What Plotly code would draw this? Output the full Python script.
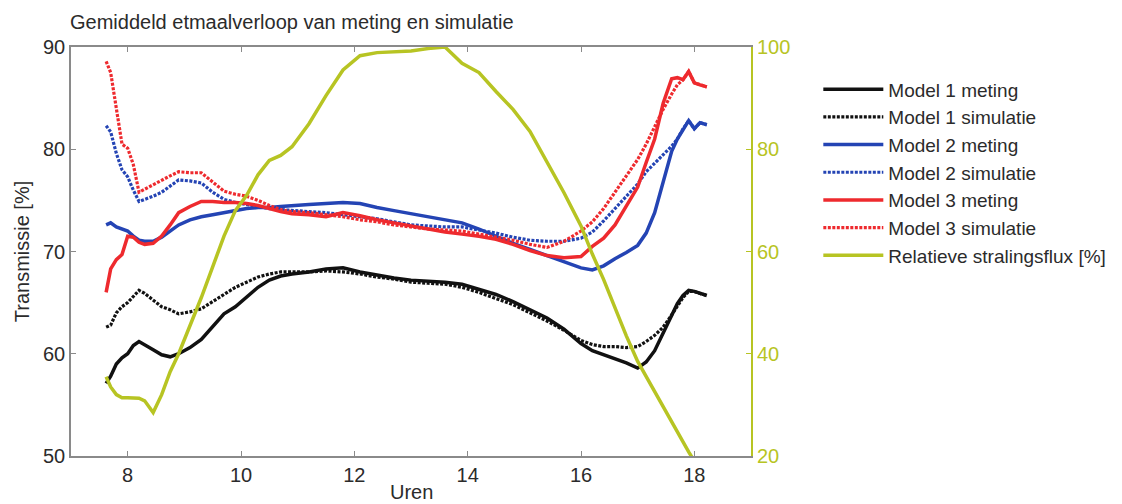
import plotly.graph_objects as go

# Hours of the day (decimal)
hours = [7.62, 7.7, 7.8, 7.9, 8.0, 8.1, 8.2, 8.3, 8.45, 8.6, 8.75, 8.9, 9.1, 9.3, 9.5,
         9.7, 9.9, 10.1, 10.3, 10.5, 10.7, 10.9, 11.2, 11.5, 11.8, 12.1, 12.4, 12.7,
         13.0, 13.3, 13.6, 13.9, 14.2, 14.5, 14.8, 15.1, 15.4, 15.7, 16.0, 16.2, 16.4,
         16.6, 16.8, 17.0, 17.15, 17.3, 17.45, 17.6, 17.7, 17.8, 17.9, 18.0, 18.1, 18.22]

# Transmission [%]
model1_meting = [57.1, 57.8, 59.0, 59.6, 60.0, 60.8, 61.2, 60.9, 60.4, 59.9, 59.7, 60.0,
                 60.6, 61.4, 62.6, 63.9, 64.6, 65.5, 66.5, 67.2, 67.6, 67.8, 68.0, 68.3,
                 68.4, 68.0, 67.7, 67.4, 67.2, 67.1, 67.0, 66.8, 66.3, 65.8, 65.1, 64.3,
                 63.5, 62.4, 61.0, 60.3, 59.9, 59.5, 59.1, 58.6, 59.2, 60.3, 62.0, 63.8,
                 64.9, 65.7, 66.2, 66.1, 65.9, 65.7]
model1_simulatie = [62.6, 62.8, 64.0, 64.6, 65.0, 65.6, 66.2, 65.9, 65.2, 64.6, 64.3, 63.9,
                    64.1, 64.4, 65.1, 65.8, 66.5, 67.0, 67.5, 67.8, 68.0, 68.0, 68.0, 68.1,
                    68.0, 67.8, 67.5, 67.3, 67.0, 66.9, 66.8, 66.5, 66.0, 65.4, 64.8, 64.0,
                    63.2, 62.3, 61.3, 60.9, 60.7, 60.7, 60.6, 60.7, 61.2, 61.8, 62.6, 63.8,
                    64.7, 65.5, 66.1, 66.1, 65.9, 65.7]
model2_meting = [72.6, 72.8, 72.4, 72.2, 72.0, 71.5, 71.1, 71.0, 71.0, 71.4, 72.0, 72.6,
                 73.1, 73.4, 73.6, 73.8, 74.0, 74.2, 74.3, 74.3, 74.4, 74.5, 74.6, 74.7,
                 74.8, 74.7, 74.3, 74.0, 73.7, 73.4, 73.1, 72.8, 72.2, 71.5, 70.8, 70.2,
                 69.6, 69.0, 68.4, 68.2, 68.6, 69.3, 69.9, 70.6, 71.8, 73.8, 76.8, 79.8,
                 81.0, 81.9, 82.8, 82.0, 82.6, 82.4]
model2_simulatie = [82.3, 81.7, 79.6, 78.0, 77.3, 76.0, 74.9, 75.1, 75.4, 75.8, 76.4, 77.0,
                    76.9, 76.7, 75.8, 75.1, 74.8, 74.6, 74.4, 74.2, 74.1, 74.0, 73.9, 73.8,
                    73.6, 73.4, 73.2, 72.9, 72.6, 72.5, 72.4, 72.4, 72.1, 71.8, 71.4, 71.1,
                    71.0, 71.0, 71.3, 71.9, 73.0, 74.2, 75.4, 76.6, 77.8, 78.6, 79.5, 80.3,
                    81.0, 82.0, 82.8, 82.0, 82.6, 82.4]
model3_meting = [66.0, 68.3, 69.2, 69.7, 71.5, 71.4, 70.9, 70.7, 70.8, 71.5, 72.6, 73.8,
                 74.4, 74.9, 74.9, 74.8, 74.8, 74.7, 74.5, 74.2, 73.9, 73.7, 73.6, 73.4,
                 73.8, 73.5, 73.1, 72.8, 72.5, 72.2, 71.9, 71.7, 71.5, 71.2, 70.7, 70.1,
                 69.6, 69.4, 69.5, 70.5, 71.3, 72.6, 74.4, 76.3, 78.7, 81.0, 84.5, 86.9,
                 87.0, 86.8, 87.6, 86.5, 86.3, 86.1]
model3_simulatie = [88.6, 87.5, 84.0, 80.5, 80.1, 78.5, 75.8, 76.1, 76.5, 77.0, 77.4, 77.8,
                    77.7, 77.7, 76.8, 75.9, 75.6, 75.4, 75.0, 74.5, 74.1, 73.9, 73.8, 73.6,
                    73.4, 73.1, 72.9, 72.6, 72.4, 72.2, 72.1, 72.0, 71.7, 71.4, 71.1, 70.7,
                    70.4, 71.0, 72.0, 72.9, 74.2, 75.8, 77.4, 79.0, 80.5, 82.2, 83.9, 85.4,
                    86.3, 86.8, 87.6, 86.5, 86.3, 86.1]

# Relative radiation flux [%] (right axis)
stralingsflux = [35.5, 33.5, 32.0, 31.4, 31.4, 31.4, 31.3, 30.8, 28.5, 32.0, 36.5, 40.0,
                 45.5, 51.0, 57.0, 63.0, 68.0, 71.0, 75.0, 77.8, 78.8, 80.5, 85.0, 90.5,
                 95.5, 98.3, 98.9, 99.0, 99.2, 99.7, 100.0, 96.8, 95.0, 91.3, 87.8, 83.5,
                 77.5, 71.5, 65.0, 59.5, 54.5, 49.0, 43.5, 38.5, 35.5, 32.5, 29.5, 26.5,
                 24.5, 22.5, 20.8, 19.0, None, None]

x_ticks = [8, 10, 12, 14, 16, 18]
y_ticks = [50, 60, 70, 80, 90]
y2_ticks = [20, 40, 60, 80, 100]

BLACK = "#111111"
BLUE = "#2444b4"
RED = "#ee2a2e"
OLIVE = "#b7c423"
GREY = "#8a8a8a"
TEXT = "#2b2b2b"
FONT = "Liberation Sans, Arial, sans-serif"
FS = 20
DOTS = "3px,1.5px"

series = [
    ("Model 1 meting", model1_meting, BLACK, "solid"),
    ("Model 1 simulatie", model1_simulatie, BLACK, DOTS),
    ("Model 2 meting", model2_meting, BLUE, "solid"),
    ("Model 2 simulatie", model2_simulatie, BLUE, DOTS),
    ("Model 3 meting", model3_meting, RED, "solid"),
    ("Model 3 simulatie", model3_simulatie, RED, DOTS),
]

fig = go.Figure()
for name, vals, color, dash in series:
    fig.add_trace(go.Scatter(
        x=hours, y=vals, name=name, mode="lines", legendgroup=name,
        line=dict(color=color, width=3.5 if dash == "solid" else 3.2, dash=dash),
    ))

fig.add_trace(go.Scatter(
    x=hours, y=stralingsflux, name="Relatieve stralingsflux [%]", mode="lines",
    legendgroup="flux", yaxis="y2", line=dict(color=OLIVE, width=3.5),
))

plot_top, plot_bottom = 47, 456

fig.update_layout(
    width=1122, height=504,
    margin=dict(l=71, r=371, t=plot_top, b=504 - plot_bottom, autoexpand=False),
    paper_bgcolor="white", plot_bgcolor="white",
    font=dict(family=FONT, size=FS, color=TEXT),
    title=dict(text="Gemiddeld etmaalverloop van meting en simulatie",
               x=70 / 1122, xanchor="left", xref="container",
               y=1 - 22 / 504, yanchor="middle",
               font=dict(family=FONT, size=FS, color=TEXT)),
    xaxis=dict(range=[7, 19], tickvals=x_ticks, ticks="inside", ticklen=5,
               tickcolor=GREY, showline=True, linecolor=GREY, linewidth=1.5,
               mirror="ticks", showgrid=False, zeroline=False,
               tickfont=dict(size=FS, color=TEXT), automargin=False),
    yaxis=dict(range=[50, 90], tickvals=y_ticks, ticks="inside", ticklen=5,
               tickcolor=GREY, showline=True, linecolor=GREY, linewidth=1.5,
               showgrid=False, zeroline=False,
               tickfont=dict(size=FS, color=TEXT),
               title=dict(text="Transmissie [%]", standoff=8, font=dict(size=FS, color=TEXT)),
               automargin=False),
    yaxis2=dict(range=[20, 100], tickvals=y2_ticks, overlaying="y", side="right",
                ticks="inside", ticklen=5, tickcolor=OLIVE, showline=True,
                linecolor=OLIVE, linewidth=1.8, showgrid=False, zeroline=False,
                tickfont=dict(size=FS, color=OLIVE), automargin=False),
    legend=dict(x=1.099, xanchor="left", y=0.943, yanchor="top",
                font=dict(family=FONT, size=19, color=TEXT),
                itemwidth=60, tracegroupgap=0, bgcolor="rgba(0,0,0,0)"),
    showlegend=True,
    annotations=[dict(text="Uren", xref="paper", yref="paper", x=0.5,
                      y=-(492 - plot_bottom) / (plot_bottom - plot_top),
                      xanchor="center", yanchor="middle", showarrow=False,
                      font=dict(family=FONT, size=FS, color=TEXT))],
)

fig.write_html("out.html")
